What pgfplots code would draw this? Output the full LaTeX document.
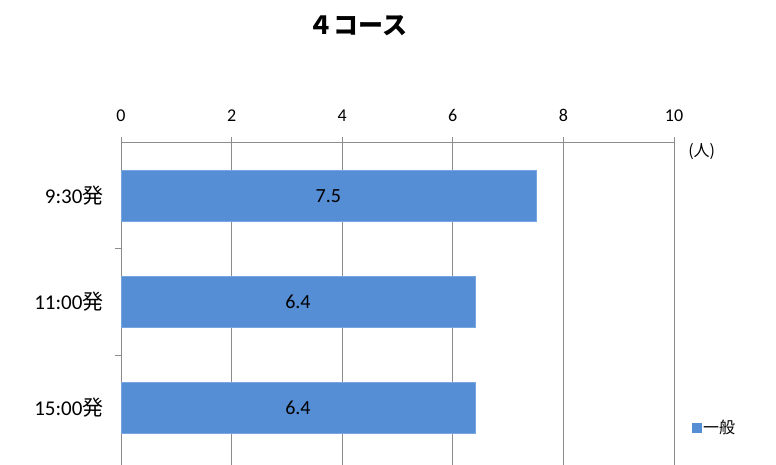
\documentclass[border=0pt]{standalone}
\usepackage{pgfplots}
\pgfplotsset{compat=1.18}
\usepackage{fontspec}
\setmainfont{Carlito}
\newfontfamily\jp{Noto Sans CJK JP}
\definecolor{barblue}{RGB}{85,142,213}
\definecolor{axgray}{RGB}{140,140,140}
\begin{document}
\begin{tikzpicture}[x=1pt,y=1pt]
\useasboundingbox (0,0) rectangle (776,464);
\clip (0,0) rectangle (776,464);
\node[font=\jp\bfseries\fontsize{25}{29}\selectfont] at (358,438) {４コース};
\begin{axis}[
  at={(121pt,321pt)}, anchor=north west,
  scale only axis, width=553pt, height=328.6pt,
  clip=false,
  xbar, bar width=51pt,
  xmin=0, xmax=10, xtick={0,2,4,6,8,10},
  ymin=-0.6, ymax=2.5,
  xtick pos=right, xticklabel pos=right,
  ytick pos=left,
  axis line style={draw=axgray, line width=1pt},
  xmajorgrids, grid style={draw=axgray, line width=0.9pt},
  tick align=outside, major tick length=6pt,
  tick style={draw=axgray, line width=1pt},
  ytick={0.5,1.5}, yticklabels={},
  extra y ticks={0,1,2},
  extra y tick labels={15:00{\jp 発},11:00{\jp 発},9:30{\jp 発}},
  extra y tick style={major tick length=0pt, yticklabel style={font=\fontsize{21}{24}\selectfont, text=black, xshift=-14pt}},
  /pgf/number format/assume math mode=true,
  tick label style={font=\fontsize{18}{21}\selectfont, text=black},
  xticklabel style={yshift=12pt},
  visualization depends on={rawx \as \rawx},
  nodes near coords,
  nodes near coords style={font=\fontsize{20}{23}\selectfont, text=black, anchor=center, xshift={-\rawx*27.65pt}},
  legend style={draw=none, fill=none, at={(1.03,0.133)}, anchor=west, font=\jp\fontsize{16}{19}\selectfont, inner sep=1pt},
  legend image code/.code={\fill[barblue] (0pt,-4.5pt) rectangle (9pt,4.5pt);},
  extra description/.code={
    \foreach \v in {0,0.2,0.4,0.6,0.8,1}{\draw[axgray, line width=1pt] (\v,1) -- ++(0,6pt);}
  },
]
\addplot[fill=barblue, draw=barblue!80!white] coordinates {(7.5,2) (6.4,1) (6.4,0)};
\addlegendentry{一般}
\node[font=\jp\fontsize{16}{19}\selectfont, anchor=center] at (axis description cs:1.05,0.9726) {(人)};
\end{axis}
\end{tikzpicture}
\end{document}
